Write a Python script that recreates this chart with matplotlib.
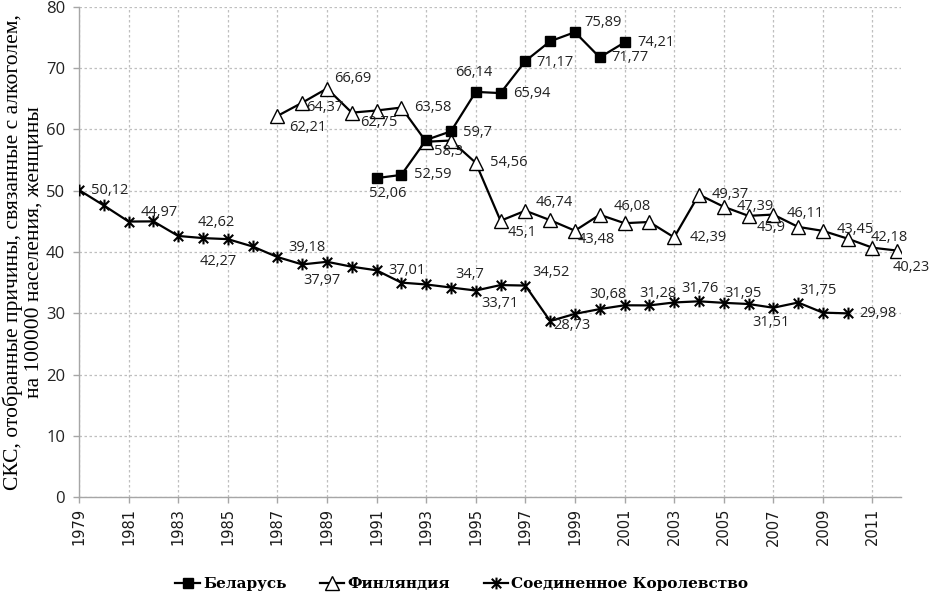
import matplotlib
matplotlib.use("Agg")
import matplotlib.pyplot as plt
from matplotlib.path import Path
from matplotlib.lines import Line2D

# ---- data ----
years_by = list(range(1991, 2002))
belarus = [52.06, 52.59, 58.3, 59.7, 66.14, 65.94, 71.17, 74.4, 75.89, 71.77, 74.21]

years_fi = list(range(1987, 2013))
finland = [62.21, 64.37, 66.69, 62.75, 63.1, 63.58, 58.0, 58.2, 54.56, 45.1,
           46.74, 45.2, 43.48, 46.08, 44.7, 44.9, 42.39, 49.37, 47.39, 45.9,
           46.11, 44.1, 43.45, 42.18, 40.7, 40.23]

years_uk = list(range(1979, 2011))
uk = [50.12, 47.6, 44.97, 45.0, 42.62, 42.27, 42.1, 40.9, 39.18, 37.97,
      38.4, 37.6, 37.01, 35.0, 34.7, 34.2, 33.71, 34.6, 34.52, 28.73,
      29.9, 30.68, 31.3, 31.28, 31.76, 31.95, 31.7, 31.51, 30.9, 31.75,
      30.1, 29.98]

series_names = ["Беларусь", "Финляндия", "Соединенное Королевство"]
x_ticks = list(range(1979, 2012, 2))
y_ticks = list(range(0, 81, 10))
y_label = "СКС, отобранные причины, связанные с алкоголем,\nна 100000 населения, женщины"

# labelled points: (year, offset dx, dy in pixels)
lab_by = [(1991, 11, -15), (1992, 31, 0), (1993, 22, -12), (1994, 27, -1),
          (1995, -2, 19), (1996, 31, 0), (1997, 30, -1), (1999, 28, 10),
          (2000, 30, 0), (2001, 31, 0)]
lab_fi = [(1987, 30, -12), (1988, 23, -5), (1989, 26, 10), (1990, 27, -10),
          (1992, 31, 0), (1995, 33, 0), (1996, 22, -12), (1997, 29, 8),
          (1999, 21, -9), (2000, 33, 8), (2003, 34, 0), (2004, 31, 0),
          (2005, 32, 0), (2006, 23, -12), (2007, 32, 1), (2009, 32, 1),
          (2010, 42, 1), (2012, 14, -17)]
lab_uk = [(1979, 31, 0), (1981, 31, 9), (1983, 38, 13), (1984, 15, -23),
          (1987, 30, 10), (1988, 20, -16), (1991, 30, 0), (1993, 44, 10),
          (1995, 24, -13), (1997, 26, 13), (1998, 22, -4), (2000, 8, 15),
          (2002, 9, 12), (2003, 26, 14), (2004, 44, 8), (2006, 22, -18),
          (2008, 20, 12), (2010, 30, 0)]

# ---- figure ----
fig = plt.figure(figsize=(9.33, 6.02), dpi=100)
ax = fig.add_axes([0.0847, 0.1744, 0.9657 - 0.0847, 0.9884 - 0.1744])

star = Path([(-1, -1), (1, 1), (-1, 1), (1, -1), (0, -1.25), (0, 1.25)],
            [Path.MOVETO, Path.LINETO, Path.MOVETO, Path.LINETO, Path.MOVETO, Path.LINETO])

lw = 1.6
ax.plot(years_by, belarus, color="black", lw=lw, marker="s", ms=7,
        mfc="black", mec="black", zorder=4)
ax.plot(years_fi, finland, color="black", lw=lw, marker="^", ms=9.5,
        mfc="white", mec="black", mew=1.0, zorder=3)
ax.plot(years_uk, uk, color="black", lw=lw, marker=star, ms=8.5,
        mfc="black", mec="black", mew=1.5, zorder=3)

lab_font = dict(family="Open Sans", size=10.5, color="#222222")

def add_labels(years, vals, labs):
    d = dict(zip(years, vals))
    for yr, dx, dy in labs:
        v = d[yr]
        s = ("%g" % v).replace(".", ",")
        ax.annotate(s, (yr, v), xytext=(dx, dy), textcoords="offset pixels",
                    ha="center", va="center", zorder=6, **lab_font)

add_labels(years_by, belarus, lab_by)
add_labels(years_fi, finland, lab_fi)
add_labels(years_uk, uk, lab_uk)

ax.set_xlim(1979, 2012.15)
ax.set_ylim(0, 80)
ax.set_xticks(x_ticks)
ax.set_xticklabels([str(t) for t in x_ticks], rotation=90,
                   family="DejaVu Sans", fontsize=10.5, color="#1a1a1a")
ax.set_yticks(y_ticks)
ax.set_yticklabels([str(t) for t in y_ticks], family="Open Sans",
                   fontsize=12, color="#222222")
ax.grid(True, color="#BFBFBF", linestyle=(0, (2, 2)), linewidth=0.9)
ax.set_axisbelow(True)
for side in ["top", "right"]:
    ax.spines[side].set_visible(False)
for side in ["left", "bottom"]:
    ax.spines[side].set_color("#A6A6A6")
    ax.spines[side].set_linewidth(1.0)
ax.tick_params(axis="both", length=4, color="#A6A6A6", width=1.0)
ax.tick_params(axis="y", pad=6)
ax.tick_params(axis="x", pad=4)

fig.text(0.025, (0.9884 + 0.1744) / 2, y_label, rotation=90, ha="center",
         va="center", family="Liberation Serif", fontsize=15.5,
         linespacing=1.15, multialignment="center")

handles = [
    Line2D([], [], color="black", lw=lw, marker="s", ms=7, mfc="black"),
    Line2D([], [], color="black", lw=lw, marker="^", ms=9.5, mfc="white", mew=1.0),
    Line2D([], [], color="black", lw=lw, marker=star, ms=8.5, mew=1.5),
]
fig.legend(handles, series_names, loc="center", bbox_to_anchor=(0.495, 0.03),
           ncol=3, frameon=False, handlelength=1.6, handletextpad=0.2,
           columnspacing=2.2,
           prop=dict(family="DejaVu Serif", weight="bold", size=11))

fig.savefig("out.png", dpi=100)
